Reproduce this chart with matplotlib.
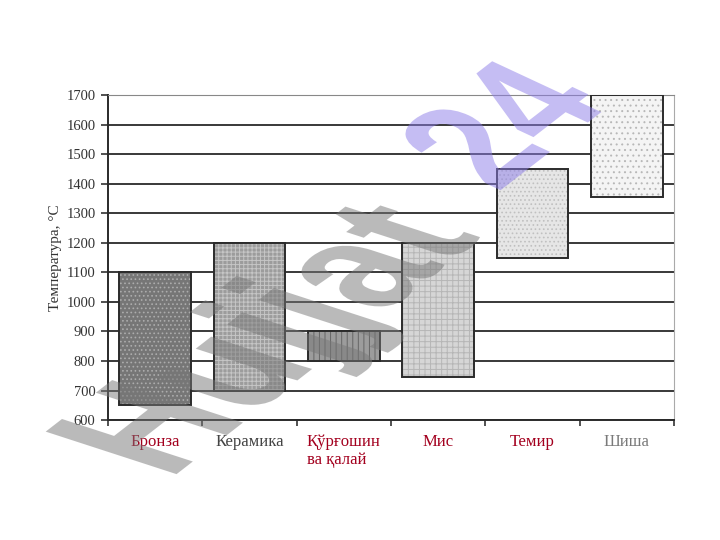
import numpy as np
import matplotlib
matplotlib.use("Agg")
from matplotlib import pyplot as plt
from matplotlib.textpath import TextPath
from matplotlib.patches import PathPatch
from matplotlib.font_manager import FontProperties
from matplotlib.transforms import Affine2D

materials = ["Бронза", "Керамика", "Қўрғошин\nва қалай", "Мис", "Темир", "Шиша"]
t_low = [650, 700, 800, 745, 1150, 1355]
t_high = [1100, 1200, 900, 1200, 1450, 1700]
label_colors = ["#a3001e", "#444444", "#a3001e", "#a3001e", "#a3001e", "#7a7a7a"]

fills = ["#767676", "#9c9c9c", "#9c9c9c", "#d6d6d6", "#e6e6e6", "#f4f4f4"]
hatch_cols = ["#acacac", "#c6c6c6", "#666666", "#b6b6b6", "#c0c0c0", "#b8b8b8"]
hatches = ["....", "++++", "|||", "+++", "....", "..."]

plt.rcParams["font.family"] = ["Liberation Serif", "DejaVu Serif"]
plt.rcParams["hatch.linewidth"] = 0.7

fig = plt.figure(figsize=(7.2, 5.4), dpi=100)
ax = fig.add_axes([0.15, 0.222, 0.786, 0.602])

x = np.arange(len(materials))
heights = np.array(t_high) - np.array(t_low)

ax.set_axisbelow(True)
ax.yaxis.grid(True, color="#2a2a2a", lw=1.3)

ax.bar(x, heights, bottom=t_low, width=0.76, color=fills, linewidth=0, zorder=2)
for i in range(len(x)):
    ax.bar(x[i], heights[i], bottom=t_low[i], width=0.76, facecolor="none",
           edgecolor=hatch_cols[i], hatch=hatches[i], linewidth=0, zorder=3)
ax.bar(x, heights, bottom=t_low, width=0.76, facecolor="none",
       edgecolor="#2b2b2b", linewidth=1.4, zorder=4)

ax.set_xlim(-0.5, len(materials) - 0.5)
ax.set_ylim(600, 1700)
ax.set_yticks(range(600, 1701, 100))
ax.tick_params(axis="y", labelsize=10.5, length=5, width=1.2, color="#333333",
               labelcolor="#333333", pad=4)

ax.set_xticks(np.arange(len(materials) + 1) - 0.5)
ax.set_xticklabels([])
ax.tick_params(axis="x", which="major", length=4, width=1.2, color="#333333")
ax.set_xticks(x, minor=True)
ax.set_xticklabels(materials, minor=True, fontsize=12, ha="center",
                   multialignment="left")
ax.tick_params(axis="x", which="minor", length=0, pad=10)
for lbl, c in zip(ax.get_xticklabels(minor=True), label_colors):
    lbl.set_color(c)

ax.set_ylabel("Температура, °С", fontsize=11, color="#333333", labelpad=3)

for s in ["left", "bottom"]:
    ax.spines[s].set_color("#2a2a2a")
    ax.spines[s].set_linewidth(1.4)
ax.spines["top"].set_color("#888888")
ax.spines["right"].set_color("#aaaaaa")

# sheared watermark, drawn in pixel space
wm_font = FontProperties(family="Liberation Sans", weight="bold")


def watermark(text, origin, color, sa, sb, ang_a=37.8, ang_b=160):
    a_vec = sa * np.array([np.cos(np.radians(ang_a)), np.sin(np.radians(ang_a))])
    b_vec = sb * np.array([np.cos(np.radians(ang_b)), np.sin(np.radians(ang_b))])
    path = TextPath((0, 0), text, size=100, prop=wm_font)
    tr = Affine2D(np.array([[a_vec[0], b_vec[0], origin[0]],
                            [a_vec[1], b_vec[1], origin[1]],
                            [0, 0, 1]]))
    fig.add_artist(PathPatch(path, transform=tr, facecolor=color, edgecolor="none",
                             alpha=0.5, zorder=10))


watermark("Hujjat", (169, 60), "#777777", 1.43, 2.0, ang_b=162)
watermark("24", (497, 347), "#8c7ce8", 1.3, 1.75, ang_b=155)

fig.savefig("out.png", dpi=100)
